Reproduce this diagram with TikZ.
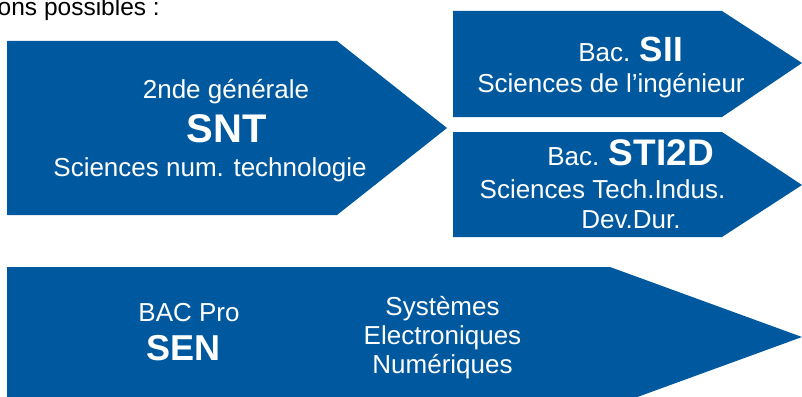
\documentclass[tikz,border=0pt]{standalone}
\usepackage{fontspec}
\setmainfont{Liberation Sans}
\definecolor{arrowblue}{RGB}{0,89,158}
\newcommand{\fsz}[1]{\fontsize{#1}{#1}\selectfont}
\tikzset{
  banner/.style={fill=arrowblue, draw=none},
  lbl/.style={inner sep=0pt, outer sep=0pt, anchor=base, text=white, font=\fsz{26}},
  big/.style={lbl, font=\fsz{38}\bfseries},
}
\begin{document}
\begin{tikzpicture}[x=1pt,y=-1pt]
\useasboundingbox (0,0) rectangle (802,396);
\clip (0,0) rectangle (802,396);
% top caption
\node[inner sep=0pt, anchor=base east, font=\fsz{24.5}] (cap) at (160,16) {ons possibles :};
% arrows
\path[banner] (7,41) -- (337,41) -- (447,128) -- (337,215) -- (7,215) -- cycle;
\path[banner] (453,11) -- (722,11) -- (802,63) -- (722,117) -- (453,117) -- cycle;
\path[banner] (453,132) -- (722,132) -- (802,185) -- (722,237) -- (453,237) -- cycle;
\path[banner] (7,267) -- (610,267) -- (802,337) -- (610,407) -- (7,407) -- cycle;
% SNT
\node[lbl] (snt1) at (226,98) {2nde générale};
\node[big, font=\fsz{40}\bfseries] (snt2) at (226.5,142) {SNT};
\node[lbl] (snt3) at (210,176) {Sciences num. technologie};
% SII
\node[lbl] (sii1) at (630.5,62) {Bac. {\fsz{35}\bfseries SII}};
\node[lbl] (sii2) at (611,92) {Sciences de l’ingénieur};
% STI2D
\node[lbl] (sti1) at (630.5,165) {Bac. {\fsz{37}\bfseries STI2D}};
\node[lbl] (sti2) at (602.5,198) {Sciences Tech.Indus.};
\node[lbl] (sti3) at (631,228) {Dev.Dur.};
% SEN
\node[lbl] (sen1) at (189,321) {BAC Pro};
\node[big, font=\fsz{36}\bfseries] (sen2) at (183.5,360) {SEN};
\node[lbl] (sen3) at (442.5,315) {Systèmes};
\node[lbl] (sen4) at (442.5,344) {Electroniques};
\node[lbl] (sen5) at (442.5,373) {Numériques};
\end{tikzpicture}
\end{document}
